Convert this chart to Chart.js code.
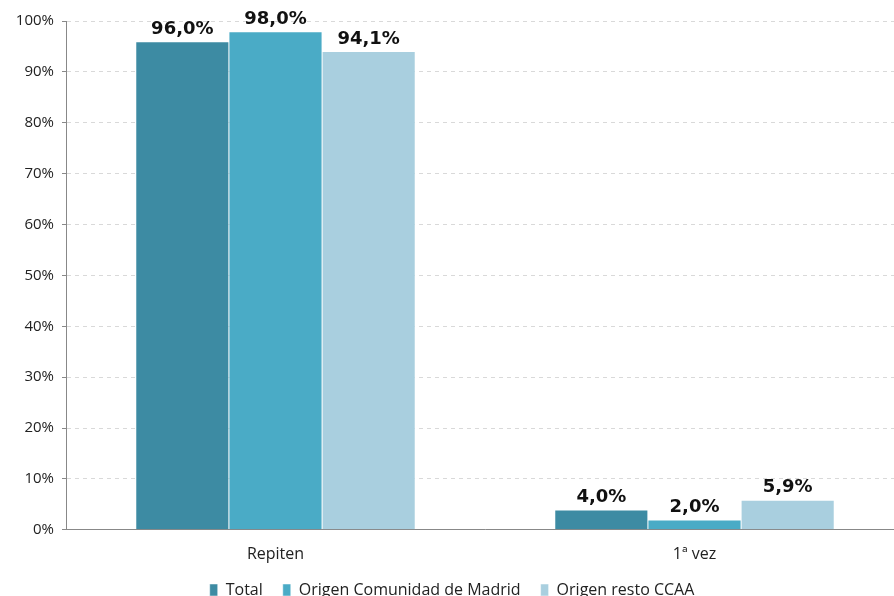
<!DOCTYPE html>
<html>
<head>
<meta charset="utf-8">
<script src="https://cdn.jsdelivr.net/npm/chart.js@4/dist/chart.umd.min.js"></script>
<style>
  html, body { margin: 0; padding: 0; background: #fff; overflow: hidden; }
  #wrap { width: 904px; height: 596px; }
</style>
</head>
<body>
<div id="wrap"><canvas id="mychart"></canvas></div>
<script>
// data
const categories = ["Repiten", "1ª vez"];
const seriesNames = ["Total", "Origen Comunidad de Madrid", "Origen resto CCAA"];
const total = [96.0, 4.0];
const madrid = [98.0, 2.0];
const restoCCAA = [94.1, 5.9];
const yTicks = [0, 10, 20, 30, 40, 50, 60, 70, 80, 90, 100];

const colors = ['#3d8ba3', '#4aabc6', '#a9cfdf'];

// draws the value on top of each bar, spanish decimal comma
const valueLabels = {
    id: 'valueLabels',
    afterDatasetsDraw(chart) {
        const ctx = chart.ctx;
        ctx.save();
        ctx.font = 'bold 18px "DejaVu Sans"';
        ctx.fillStyle = '#111';
        ctx.textAlign = 'center';
        ctx.textBaseline = 'bottom';
        chart.data.datasets.forEach((ds, i) => {
            chart.getDatasetMeta(i).data.forEach((bar, j) => {
                let txt = ds.data[j].toFixed(1).replace('.', ',') + '%';
                ctx.fillText(txt, bar.x, bar.y - 3);
            });
        });
        ctx.restore();
    }
};

// legend sits closer to the axis labels than chart.js would put it
const LEGEND_LIFT = 17;
const liftLegend = {
    id: 'liftLegend',
    afterLayout(chart) {
        chart.legend.top -= LEGEND_LIFT;
        chart.legend.bottom -= LEGEND_LIFT;
    }
};

let ctx = document.getElementById('mychart');

let myChart = new Chart(ctx, {
    type: 'bar',
    data: {
        labels: categories,
        datasets: [
            { label: seriesNames[0], data: total, backgroundColor: colors[0] },
            { label: seriesNames[1], data: madrid, backgroundColor: colors[1] },
            { label: seriesNames[2], data: restoCCAA, backgroundColor: colors[2] }
        ]
    },
    options: {
        responsive: true,
        maintainAspectRatio: false,
        animation: false,
        devicePixelRatio: 1,
        layout: { padding: { top: 21, right: 0, left: 0, bottom: -12 - LEGEND_LIFT } },
        datasets: {
            bar: {
                barPercentage: 1.0,
                categoryPercentage: 0.667,
                borderColor: '#ffffff',
                borderWidth: { left: 0.5, right: 0.5, top: 1, bottom: 0 }
            }
        },
        plugins: {
            legend: {
                position: 'bottom',
                labels: {
                    boxWidth: 8,
                    boxHeight: 12,
                    padding: 20,
                    color: '#222',
                    font: { family: 'Open Sans', size: 16 }
                }
            },
            tooltip: { enabled: false }
        },
        scales: {
            x: {
                grid: { display: false, drawTicks: false },
                border: { color: '#888', width: 1 },
                ticks: {
                    color: '#222',
                    padding: 15,
                    font: { family: 'Open Sans', size: 16 }
                }
            },
            y: {
                min: 0,
                max: 100,
                afterBuildTicks(axis) {
                    axis.ticks = yTicks.map(v => ({ value: v }));
                },
                afterFit(axis) {
                    axis.width = 66;
                },
                grid: {
                    color: '#d9d9d9',
                    tickLength: 4,
                    tickColor: '#888'
                },
                border: { color: '#888', width: 1, dash: [4, 4] },
                ticks: {
                    color: '#222',
                    padding: 8,
                    font: { family: 'Open Sans', size: 15 },
                    callback: v => v + '%'
                }
            }
        }
    },
    plugins: [valueLabels, liftLegend]
});
</script>
</body>
</html>
